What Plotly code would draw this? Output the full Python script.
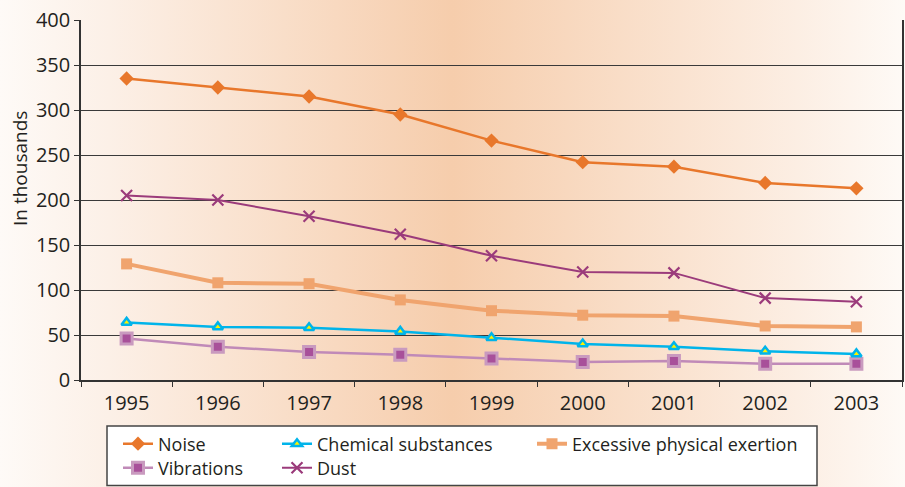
import base64
import plotly.graph_objects as go

years = ["1995", "1996", "1997", "1998", "1999", "2000", "2001", "2002", "2003"]
noise = [335, 325, 315, 295, 266, 242, 237, 219, 213]
chemical = [64, 59, 58, 54, 47, 40, 37, 32, 29]
exertion = [129, 108, 107, 89, 77, 72, 71, 60, 59]
vibrations = [46, 37, 31, 28, 24, 20, 21, 18, 18]
dust = [205, 200, 182, 162, 138, 120, 119, 91, 87]
y_ticks = [0, 50, 100, 150, 200, 250, 300, 350, 400]

FONT = "Open Sans"
TXT = "#231F20"

svg = """<svg xmlns='http://www.w3.org/2000/svg' width='905' height='487'>
<defs><linearGradient id='g' x1='0' y1='0' x2='1' y2='0'>
<stop offset='0' stop-color='#FEFAF7'/>
<stop offset='0.12' stop-color='#FCF0E7'/>
<stop offset='0.5' stop-color='#F6CDAC'/>
<stop offset='0.88' stop-color='#FCEEE3'/>
<stop offset='1' stop-color='#FEFAF6'/>
</linearGradient></defs>
<rect width='905' height='487' fill='url(#g)'/></svg>"""
bg_uri = "data:image/svg+xml;base64," + base64.b64encode(svg.encode()).decode()

fig = go.Figure()

fig.add_trace(go.Scatter(
    x=years, y=noise, name="Noise", mode="lines+markers", legend="legend",
    line=dict(color="#E8772B", width=2.5),
    marker=dict(symbol="diamond", size=11, color="#E8772B")))
fig.add_trace(go.Scatter(
    x=years, y=vibrations, name="Vibrations", mode="lines+markers", legend="legend2",
    line=dict(color="#C08AB8", width=2.5),
    marker=dict(symbol="square", size=11, color="#A8509A",
                line=dict(color="#C99ABF", width=3))))
fig.add_trace(go.Scatter(
    x=years, y=chemical, name="Chemical substances", mode="lines+markers", legend="legend3",
    line=dict(color="#00B4EA", width=2.5),
    marker=dict(symbol="triangle-up", size=9, color="#FFF200",
                line=dict(color="#00B4EA", width=2.5))))
fig.add_trace(go.Scatter(
    x=years, y=dust, name="Dust", mode="lines+markers", legend="legend4",
    line=dict(color="#9B3B7B", width=2),
    marker=dict(symbol="x-thin-open", size=11, color="#9B3B7B",
                line=dict(color="#9B3B7B", width=2.2))))
fig.add_trace(go.Scatter(
    x=years, y=exertion, name="Excessive physical exertion", mode="lines+markers",
    legend="legend5",
    line=dict(color="#F0A46E", width=4),
    marker=dict(symbol="square", size=11, color="#F0A46E")))


def leg(xpx, ypx):
    return dict(visible=True, orientation="v", xref="paper", yref="paper",
                x=(xpx - 81) / 821, y=(380 - ypx) / 360, xanchor="left", yanchor="middle",
                bgcolor="rgba(0,0,0,0)", borderwidth=0, tracegroupgap=0,
                font=dict(family=FONT, size=18, color=TXT), itemwidth=30)


fig.update_layout(
    width=905, height=487,
    showlegend=True,
    margin=dict(l=81, r=3, t=20, b=107, autoexpand=False),
    paper_bgcolor="#FEFAF7",
    plot_bgcolor="#F5CBAB",
    font=dict(family=FONT, size=19, color=TXT),
    images=[dict(source=bg_uri, xref="paper", yref="paper", x=-81/821, y=1+20/360,
                 sizex=905/821, sizey=487/360, xanchor="left", yanchor="top",
                 sizing="stretch", layer="below")],
    xaxis=dict(type="category", showgrid=False, showline=True, linecolor="#333333",
               linewidth=1.5, ticks="outside", tickson="boundaries", ticklen=5,
               tickcolor="#333333", tickfont=dict(size=20, family=FONT, color=TXT),
               ticklabelstandoff=4,
               range=[-0.5, 8.5], automargin=False),
    yaxis=dict(range=[0, 400], tickvals=y_ticks, showgrid=True, gridcolor="#3A3A3A",
               gridwidth=1, showline=True, linecolor="#333333", linewidth=1.5,
               mirror=True, ticks="outside", ticklen=5, tickcolor="#333333",
               tickfont=dict(size=20, family=FONT, color=TXT), zeroline=False,
               automargin=False),
    legend=leg(118, 444),
    legend2=leg(118, 468),
    legend3=leg(277, 444),
    legend4=leg(277, 468),
    legend5=leg(532, 444),
    shapes=[dict(type="rect", xref="paper", yref="paper",
                 x0=(107 - 81) / 821, x1=(817 - 81) / 821,
                 y0=(380 - 485.5) / 360, y1=(380 - 426) / 360,
                 line=dict(color="#444444", width=1.5), fillcolor="#FFFFFF")],
    annotations=[dict(text="In thousands", xref="paper", yref="paper",
                      x=-61/821, y=(380-169)/360, xanchor="center", yanchor="middle",
                      textangle=-90, showarrow=False,
                      font=dict(family=FONT, size=19, color=TXT))],
)

fig.write_html("out.html", config={"displayModeBar": False},
               post_script="document.body.style.margin='0';document.body.style.overflow='hidden';")
